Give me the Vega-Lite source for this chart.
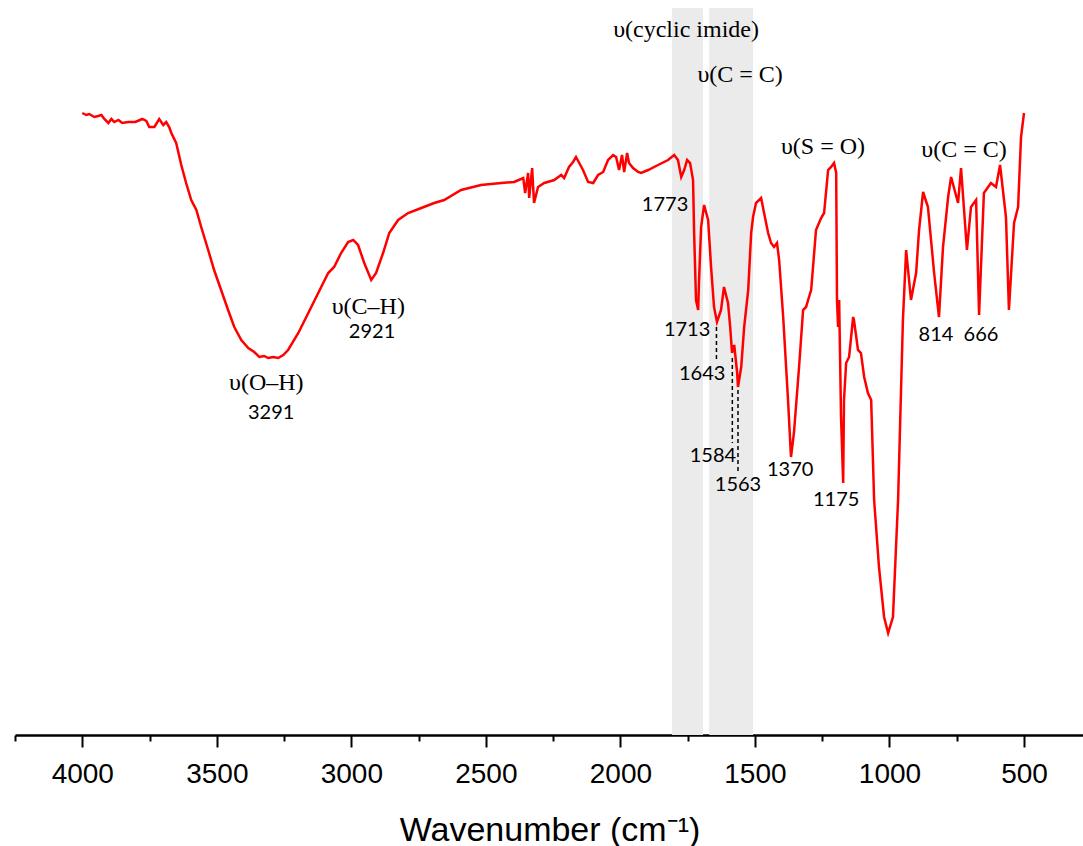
{
  "$schema": "https://vega.github.io/schema/vega-lite/v6.json",
  "width": 1069,
  "height": 727,
  "padding": {"left": 14, "top": 8, "right": 0, "bottom": 0},
  "background": "white",
  "config": {"view": {"stroke": null}},
  "datasets": {
    "spectrum": [
      {"w":4000,"T":622},{"w":3985,"T":620},{"w":3974,"T":621},{"w":3955,"T":618},{"w":3941,"T":619},{"w":3929,"T":620},{"w":3918,"T":616},{"w":3903,"T":612},{"w":3892,"T":616},{"w":3881,"T":613},{"w":3866,"T":615},{"w":3851,"T":612},{"w":3829,"T":613},{"w":3803,"T":613},{"w":3777,"T":616},{"w":3762,"T":614},{"w":3751,"T":608},{"w":3732,"T":608},{"w":3714,"T":616},{"w":3699,"T":610},{"w":3688,"T":613},{"w":3677,"T":608},{"w":3669,"T":602},{"w":3651,"T":592},{"w":3632,"T":570},{"w":3614,"T":552},{"w":3595,"T":535},{"w":3576,"T":525},{"w":3558,"T":508},{"w":3532,"T":485},{"w":3510,"T":465},{"w":3484,"T":445},{"w":3458,"T":425},{"w":3435,"T":408},{"w":3409,"T":395},{"w":3383,"T":387},{"w":3361,"T":383},{"w":3342,"T":378},{"w":3324,"T":379},{"w":3309,"T":377},{"w":3290,"T":378},{"w":3272,"T":377},{"w":3253,"T":380},{"w":3235,"T":385},{"w":3197,"T":402},{"w":3160,"T":422},{"w":3123,"T":442},{"w":3086,"T":462},{"w":3064,"T":468},{"w":3038,"T":482},{"w":3012,"T":493},{"w":2993,"T":495},{"w":2975,"T":490},{"w":2952,"T":472},{"w":2926,"T":455},{"w":2908,"T":462},{"w":2882,"T":482},{"w":2859,"T":502},{"w":2826,"T":515},{"w":2789,"T":522},{"w":2740,"T":527},{"w":2692,"T":532},{"w":2655,"T":535},{"w":2592,"T":545},{"w":2518,"T":550},{"w":2443,"T":552},{"w":2395,"T":553},{"w":2369,"T":556},{"w":2361,"T":557},{"w":2354,"T":542},{"w":2343,"T":562},{"w":2339,"T":537},{"w":2328,"T":567},{"w":2321,"T":532},{"w":2306,"T":548},{"w":2283,"T":552},{"w":2246,"T":555},{"w":2220,"T":560},{"w":2209,"T":557},{"w":2191,"T":568},{"w":2176,"T":573},{"w":2165,"T":578},{"w":2153,"T":572},{"w":2139,"T":565},{"w":2120,"T":553},{"w":2101,"T":552},{"w":2083,"T":560},{"w":2064,"T":563},{"w":2046,"T":575},{"w":2027,"T":580},{"w":2016,"T":578},{"w":2005,"T":565},{"w":1994,"T":580},{"w":1986,"T":563},{"w":1975,"T":582},{"w":1968,"T":572},{"w":1953,"T":567},{"w":1934,"T":563},{"w":1923,"T":562},{"w":1897,"T":565},{"w":1860,"T":570},{"w":1823,"T":575},{"w":1800,"T":580},{"w":1786,"T":575},{"w":1774,"T":558},{"w":1763,"T":565},{"w":1752,"T":575},{"w":1741,"T":572},{"w":1730,"T":555},{"w":1726,"T":502},{"w":1719,"T":435},{"w":1711,"T":425},{"w":1708,"T":452},{"w":1700,"T":508},{"w":1689,"T":530},{"w":1674,"T":515},{"w":1663,"T":468},{"w":1652,"T":428},{"w":1641,"T":413},{"w":1626,"T":425},{"w":1615,"T":448},{"w":1600,"T":432},{"w":1592,"T":408},{"w":1585,"T":382},{"w":1577,"T":390},{"w":1566,"T":362},{"w":1563,"T":348},{"w":1551,"T":368},{"w":1540,"T":408},{"w":1525,"T":445},{"w":1514,"T":502},{"w":1507,"T":518},{"w":1496,"T":532},{"w":1477,"T":537},{"w":1466,"T":522},{"w":1451,"T":502},{"w":1440,"T":492},{"w":1429,"T":488},{"w":1418,"T":492},{"w":1410,"T":475},{"w":1395,"T":418},{"w":1377,"T":335},{"w":1366,"T":278},{"w":1355,"T":302},{"w":1336,"T":368},{"w":1321,"T":425},{"w":1310,"T":428},{"w":1299,"T":438},{"w":1291,"T":445},{"w":1273,"T":505},{"w":1254,"T":517},{"w":1243,"T":522},{"w":1228,"T":565},{"w":1217,"T":568},{"w":1206,"T":572},{"w":1198,"T":562},{"w":1195,"T":435},{"w":1191,"T":408},{"w":1187,"T":435},{"w":1180,"T":318},{"w":1172,"T":252},{"w":1169,"T":335},{"w":1161,"T":372},{"w":1150,"T":378},{"w":1135,"T":418},{"w":1132,"T":415},{"w":1117,"T":385},{"w":1106,"T":382},{"w":1094,"T":358},{"w":1080,"T":342},{"w":1068,"T":335},{"w":1057,"T":235},{"w":1039,"T":168},{"w":1020,"T":118},{"w":1005,"T":102},{"w":987,"T":118},{"w":968,"T":235},{"w":950,"T":415},{"w":938,"T":485},{"w":920,"T":435},{"w":901,"T":462},{"w":890,"T":505},{"w":875,"T":543},{"w":857,"T":528},{"w":834,"T":462},{"w":816,"T":418},{"w":801,"T":488},{"w":782,"T":538},{"w":771,"T":558},{"w":745,"T":532},{"w":734,"T":567},{"w":712,"T":485},{"w":697,"T":528},{"w":678,"T":535},{"w":667,"T":420},{"w":649,"T":542},{"w":623,"T":552},{"w":604,"T":548},{"w":589,"T":570},{"w":567,"T":518},{"w":556,"T":425},{"w":537,"T":512},{"w":522,"T":528},{"w":511,"T":598},{"w":500,"T":622}
    ],
    "bands": [
      {"w": 1808, "w2": 1693},
      {"w": 1670, "w2": 1507}
    ],
    "leaders": [
      {"w": 1643, "T": 408, "T2": 373},
      {"w": 1584, "T": 377, "T2": 292},
      {"w": 1563, "T": 345, "T2": 262}
    ],
    "labels": [
      {"kind": "mode", "label": "υ(cyclic imide)", "w": 1756, "T": 705},
      {"kind": "mode", "label": "υ(C = C)", "w": 1555, "T": 660},
      {"kind": "mode", "label": "υ(S = O)", "w": 1247, "T": 588},
      {"kind": "mode", "label": "υ(C = C)", "w": 723, "T": 585},
      {"kind": "mode", "label": "υ(O–H)", "w": 3316, "T": 352},
      {"kind": "mode", "label": "υ(C–H)", "w": 2937, "T": 428},
      {"kind": "peak", "label": "3291", "w": 3298, "T": 322},
      {"kind": "peak", "label": "2921", "w": 2923, "T": 403},
      {"kind": "peak", "label": "1773", "w": 1834, "T": 530},
      {"kind": "peak", "label": "1713", "w": 1752, "T": 405},
      {"kind": "peak", "label": "1643", "w": 1696, "T": 361},
      {"kind": "peak", "label": "1584", "w": 1656, "T": 279},
      {"kind": "peak", "label": "1563", "w": 1563, "T": 250},
      {"kind": "peak", "label": "1370", "w": 1369, "T": 265},
      {"kind": "peak", "label": "1175", "w": 1198, "T": 235},
      {"kind": "peak", "label": "814", "w": 827, "T": 400},
      {"kind": "peak", "label": "666", "w": 660, "T": 400}
    ]
  },
  "encoding": {
    "x": {
      "field": "w",
      "type": "quantitative",
      "scale": {"domain": [277, 4250], "reverse": true, "nice": false, "zero": false},
      "axis": {
        "values": [4250, 4000, 3750, 3500, 3250, 3000, 2750, 2500, 2250, 2000, 1750, 1500, 1250, 1000, 750, 500],
        "format": "d",
        "labelExpr": "datum.value % 500 === 0 ? datum.label : ''",
        "grid": false,
        "tickSize": {"condition": {"test": "datum.value % 500 === 0", "value": 12}, "value": 6},
        "tickWidth": 2,
        "tickColor": "black",
        "domainColor": "black",
        "domainWidth": 2.5,
        "labelFont": "Liberation Sans",
        "labelFontSize": 28,
        "labelColor": "black",
        "labelBaseline": "alphabetic",
        "labelPadding": 35,
        "labelFlush": false,
        "labelOverlap": false,
        "title": "Wavenumber (cm⁻¹)",
        "titleFont": "Liberation Sans",
        "titleFontSize": 34,
        "titleFontWeight": "normal",
        "titleColor": "black",
        "titleBaseline": "alphabetic",
        "titleY": 105
      }
    }
  },
  "layer": [
    {
      "data": {"name": "bands"},
      "mark": {"type": "rect", "color": "#ebebeb"},
      "encoding": {"x2": {"field": "w2"}}
    },
    {
      "data": {"name": "spectrum"},
      "mark": {"type": "line", "color": "#ff0000", "strokeWidth": 2.5, "interpolate": "linear"},
      "encoding": {
        "y": {"field": "T", "type": "quantitative", "scale": {"domain": [0, 727], "nice": false, "zero": false}, "axis": null}
      }
    },
    {
      "data": {"name": "leaders"},
      "mark": {"type": "rule", "color": "black", "strokeWidth": 1.5, "strokeDash": [4, 3]},
      "encoding": {
        "y": {"field": "T", "type": "quantitative"},
        "y2": {"field": "T2"}
      }
    },
    {
      "data": {"name": "labels"},
      "transform": [{"filter": "datum.kind === 'mode'"}],
      "mark": {"type": "text", "font": "Liberation Serif", "fontSize": 24, "color": "black", "align": "center", "baseline": "middle"},
      "encoding": {
        "y": {"field": "T", "type": "quantitative"},
        "text": {"field": "label"}
      }
    },
    {
      "data": {"name": "labels"},
      "transform": [{"filter": "datum.kind === 'peak'"}],
      "mark": {"type": "text", "font": "Lato", "fontSize": 20, "color": "black", "align": "center", "baseline": "middle"},
      "encoding": {
        "y": {"field": "T", "type": "quantitative"},
        "text": {"field": "label"}
      }
    }
  ]
}
